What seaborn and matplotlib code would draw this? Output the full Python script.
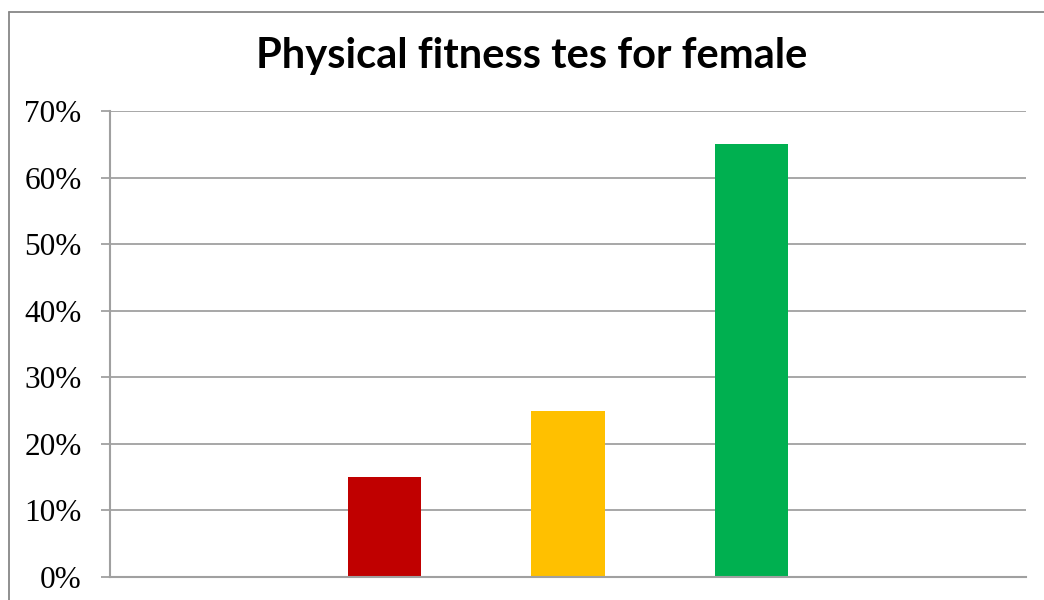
import matplotlib
matplotlib.use("Agg")
import matplotlib.pyplot as plt
import seaborn as sns
import pandas as pd
from matplotlib.lines import Line2D
from matplotlib.ticker import PercentFormatter

# Fitness test results (share of female participants per level)
categories = ["", "Poor", "Average", "Good", " "]
shares = [0, 15, 25, 65, 0]
bar_colors = ["#FFFFFF", "#C00000", "#FFC000", "#00B050", "#FFFFFF"]
title_text = "Physical fitness tes for female"
y_ticks = [0, 10, 20, 30, 40, 50, 60, 70]

df = pd.DataFrame({"level": categories, "share": shares})

sns.set_theme(style="white")
plt.rcParams["font.family"] = ["DejaVu Sans"]

W, H = 1044, 600
fig = plt.figure(figsize=(W / 100, H / 100), dpi=100)
ax = fig.add_axes([110 / W, (H - 577) / H, (1026 - 110) / W, (577 - 111) / H])

sns.barplot(data=df, x="level", y="share", hue="level", order=categories,
            palette=dict(zip(categories, bar_colors)), width=0.4,
            legend=False, ax=ax, saturation=1, linewidth=0)

grid_c = "#A0A0A0"
ax.set_xlim(-0.5, 4.5)
ax.set_ylim(0, 70)
ax.set_yticks(y_ticks)
ax.yaxis.set_major_formatter(PercentFormatter(decimals=0))
ax.yaxis.grid(True, color=grid_c, linewidth=1.3)
ax.set_axisbelow(True)
ax.set_xlabel("")
ax.set_ylabel("")
ax.set_xticks([])
for s in ["top", "right"]:
    ax.spines[s].set_visible(False)
for s in ["left", "bottom"]:
    ax.spines[s].set_color(grid_c)
    ax.spines[s].set_linewidth(1.5)
ax.tick_params(axis="y", left=True, length=6.5, width=1.3, color=grid_c,
               pad=14, labelsize=22.5, labelcolor="black")
for lab in ax.get_yticklabels():
    lab.set_fontfamily("Liberation Serif")

fig.text(532 / W, (H - 68) / H, title_text, ha="center", va="baseline",
         fontsize=30, fontweight="bold", family=["Lato", "DejaVu Sans"],
         color="black")

# Outer chart frame
frame_c = "#878787"
fig.add_artist(Line2D([8.5 / W, 8.5 / W], [0, (H - 11.5) / H], color=frame_c,
                      linewidth=1.3, transform=fig.transFigure))
fig.add_artist(Line2D([8.5 / W, 1], [(H - 11.5) / H, (H - 11.5) / H], color=frame_c,
                      linewidth=1.3, transform=fig.transFigure))

fig.savefig("out.png", dpi=100, facecolor="white")
